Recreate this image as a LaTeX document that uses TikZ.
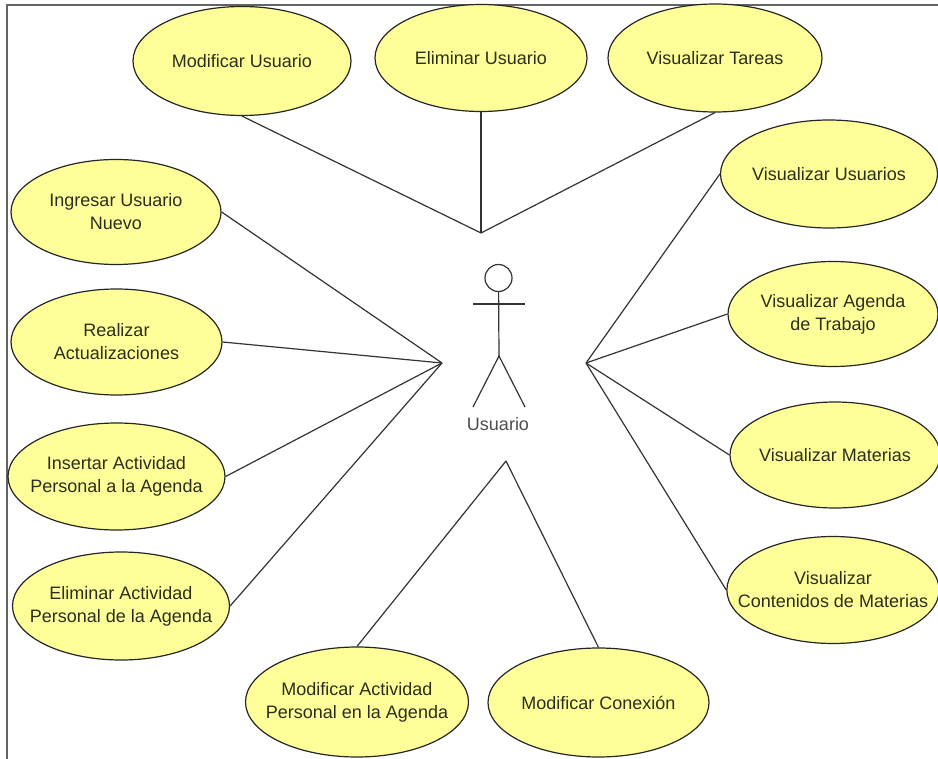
\documentclass[tikz,border=0pt]{standalone}
\usepackage{fontspec}
\setmainfont{Liberation Sans}
\usetikzlibrary{shapes.geometric}
\definecolor{casefill}{RGB}{255,255,153}
\definecolor{casetext}{RGB}{45,45,30}
\definecolor{framegray}{RGB}{100,100,100}
\begin{document}
\begin{tikzpicture}[x=0.75pt,y=-0.75pt,font=\fontsize{13.5}{17.25}\selectfont,
    usecase/.style 2 args={ellipse,draw=black!85,fill=casefill,text=casetext,inner sep=-15pt,line width=0.9pt,align=center,
        minimum width=#1*0.75pt,minimum height=#2*0.75pt},
    link/.style={draw=black!80,line width=0.9pt}]
\useasboundingbox (0,0) rectangle (938,759);
\begin{scope}
\clip (0,0) rectangle (938,759);
\draw[framegray,line width=1pt] (7,760) -- (7,5) -- (939,5);
% top row
\node[usecase={218}{109}] (modusr) at (242,61) {Modificar Usuario};
\node[usecase={212}{107}] (elimusr) at (481,58) {Eliminar Usuario};
\node[usecase={214}{108}] (vistar) at (715,58) {Visualizar Tareas};
% left column
\node[usecase={210}{105}] (ingusr) at (116,212) {Ingresar Usuario\\Nuevo};
\node[usecase={211}{106}] (realact) at (116.5,342) {Realizar\\Actualizaciones};
\node[usecase={217}{107}] (insact) at (116.5,476.5) {Insertar Actividad\\Personal a la Agenda};
\node[usecase={217}{108}] (elimact) at (121,606) {Eliminar Actividad\\Personal de la Agenda};
% right column
\node[usecase={217}{108}] (visusr) at (829,174) {Visualizar Usuarios};
\node[usecase={210}{105}] (visage) at (833,314) {Visualizar Agenda\\de Trabajo};
\node[usecase={210}{106}] (vismat) at (835,455) {Visualizar Materias};
\node[usecase={210}{107}] (viscon) at (833,590) {Visualizar\\Contenidos de Materias};
% bottom row
\node[usecase={223}{110}] (modact) at (357,702) {Modificar Actividad\\Personal en la Agenda};
\node[usecase={221}{109}] (modcon) at (598.5,702.5) {Modificar Conexión};
\end{scope}
% actor
\node[circle,draw=black!80,fill=white,minimum size=27*0.75pt,inner sep=0pt,line width=0.9pt] (head) at (498.5,278) {};
\coordinate (hip) at (499,356);
\coordinate (armL) at (473,304);
\coordinate (armR) at (525,304);
\coordinate (legL) at (473,407);
\coordinate (legR) at (525,407);
\draw[link] (head) -- (hip);
\draw[link] (armL) -- (armR);
\draw[link] (legL) -- (hip) -- (legR);
\node[text=black!70] (actor) at (498,424) {Usuario};
% hubs
\coordinate (hubT) at (481,233);
\coordinate (hubL) at (442,363);
\coordinate (hubR) at (586,363);
\coordinate (hubB) at (506,461);
\foreach \n in {modusr,elimusr,vistar}
    \draw[link] (\n.south) -- (hubT);
\foreach \n in {ingusr,realact,insact,elimact}
    \draw[link] (\n.east) -- (hubL);
\foreach \n in {visusr,visage,vismat,viscon}
    \draw[link] (\n.west) -- (hubR);
\foreach \n in {modact,modcon}
    \draw[link] (\n.north) -- (hubB);
\end{tikzpicture}
\end{document}
